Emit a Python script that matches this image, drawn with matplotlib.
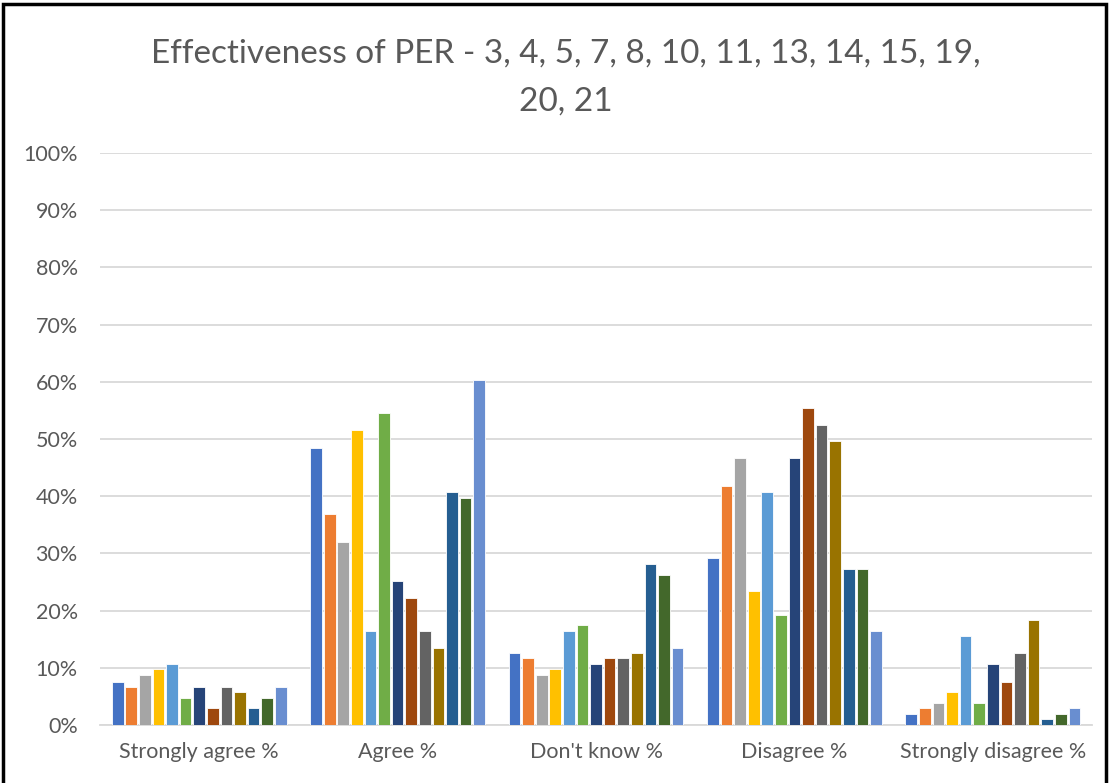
import matplotlib.pyplot as plt
import numpy as np
from matplotlib.patches import Rectangle
from matplotlib.ticker import PercentFormatter

categories = ["Strongly agree %", "Agree %", "Don't know %", "Disagree %", "Strongly disagree %"]
series_names = ["3", "4", "5", "7", "8", "10", "11", "13", "14", "15", "19", "20", "21"]

# values per series, one entry per category (percent)
s3 = [7.6, 48.4, 12.6, 29.2, 1.9]
s4 = [6.7, 36.8, 11.7, 41.8, 2.9]
s5 = [8.8, 32.0, 8.8, 46.7, 3.8]
s7 = [9.7, 51.5, 9.7, 23.4, 5.8]
s8 = [10.6, 16.4, 16.4, 40.8, 15.5]
s10 = [4.7, 54.5, 17.5, 19.3, 3.8]
s11 = [6.7, 25.1, 10.6, 46.7, 10.6]
s13 = [2.9, 22.2, 11.7, 55.4, 7.6]
s14 = [6.7, 16.4, 11.7, 52.5, 12.6]
s15 = [5.8, 13.5, 12.6, 49.6, 18.4]
s19 = [2.9, 40.8, 28.1, 27.2, 1.0]
s20 = [4.7, 39.7, 26.3, 27.2, 1.9]
s21 = [6.7, 60.3, 13.5, 16.4, 2.9]
all_series = [s3, s4, s5, s7, s8, s10, s11, s13, s14, s15, s19, s20, s21]

colors = ["#4472C4", "#ED7D31", "#A5A5A5", "#FFC000", "#5B9BD5", "#70AD47",
          "#264478", "#9E480E", "#636363", "#997300", "#255E91", "#43682B", "#698ED0"]

plt.rcParams["font.family"] = ["Lato", "DejaVu Sans"]

fig = plt.figure(figsize=(11.09, 7.83), dpi=100)
ax = fig.add_axes([0.0902, 0.0741, 0.8945, 0.7305])

x = np.arange(len(categories))
n = len(all_series)
slot = 0.0685
for i, (vals, c) in enumerate(zip(all_series, colors)):
    offs = (i - (n - 1) / 2) * slot
    ax.bar(x + offs, vals, width=slot * 0.86, color=c, edgecolor="white",
           linewidth=0.6, zorder=3, label=series_names[i])

ax.set_xlim(-0.5, len(categories) - 0.5)
ax.set_ylim(0, 100)
ax.set_yticks(np.arange(0, 101, 10))
ax.yaxis.set_major_formatter(PercentFormatter(decimals=0))
ax.set_xticks(x)
ax.set_xticklabels(categories)
ax.grid(axis="y", color="#D9D9D9", linewidth=1.3, zorder=0)
for side in ["top", "right", "left"]:
    ax.spines[side].set_visible(False)
ax.spines["bottom"].set_color("#D9D9D9")
ax.spines["bottom"].set_linewidth(1.3)
ax.tick_params(axis="both", length=0, colors="#595959", labelsize=15.5)
ax.tick_params(axis="y", pad=16)
ax.tick_params(axis="x", pad=12)

fig.text(0.51, 0.932, "Effectiveness of PER - 3, 4, 5, 7, 8, 10, 11, 13, 14, 15, 19,",
         ha="center", va="center", fontsize=24, color="#595959")
fig.text(0.51, 0.870, "20, 21", ha="center", va="center", fontsize=24, color="#595959")

fig.patches.append(Rectangle((0.003, -0.02), 0.994, 1.015, transform=fig.transFigure,
                             fill=False, edgecolor="black", linewidth=2.5))

fig.savefig("out.png", dpi=100)
